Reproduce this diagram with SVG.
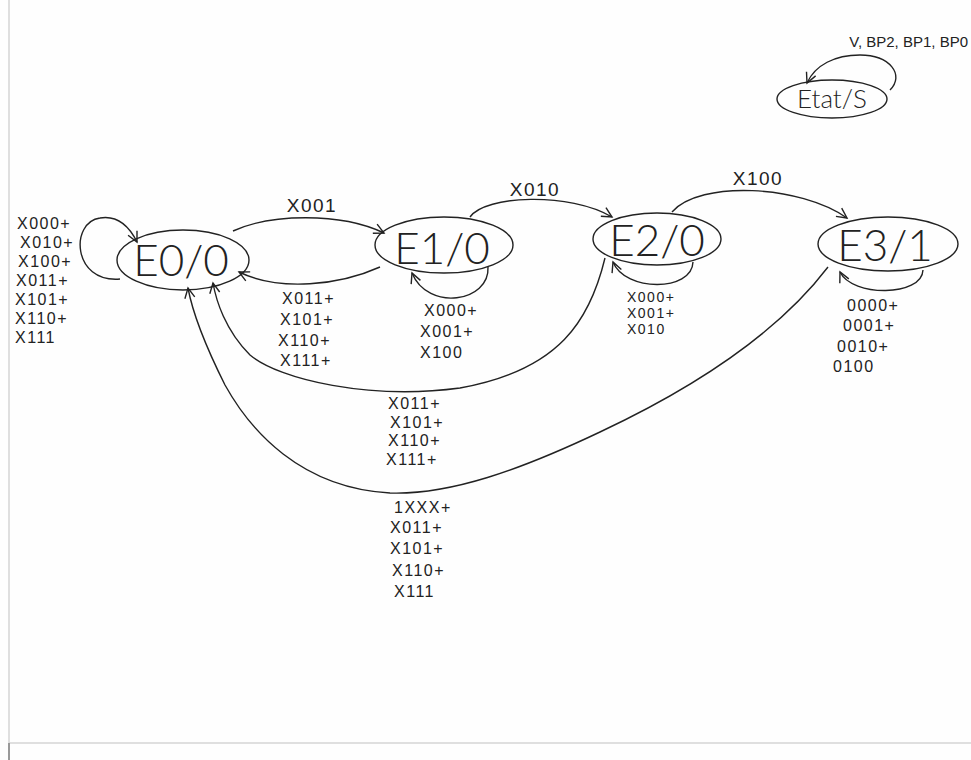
<svg xmlns="http://www.w3.org/2000/svg" width="971" height="760" viewBox="0 0 971 760">
<style>
.node{fill:none;stroke:#222;stroke-width:1.4}
.nl{font-family:Lato,"Liberation Sans",Arial,sans-serif;font-weight:300;font-size:44px;fill:#222;text-anchor:middle}
.lb{font-family:"Liberation Sans",Arial,sans-serif;font-size:16px;fill:#222;letter-spacing:1.5px}
.lt{font-family:"Liberation Sans",Arial,sans-serif;font-size:19px;fill:#222;text-anchor:middle;letter-spacing:1.5px}
.ed{fill:none;stroke:#222;stroke-width:1.4;marker-end:url(#arr)}
.page{stroke:#d4d4d4;stroke-width:1.5;fill:none}
</style>
<defs>
<marker id="arr" markerUnits="userSpaceOnUse" markerWidth="14" markerHeight="14" refX="11" refY="6" orient="auto" viewBox="0 0 14 12">
<path d="M1,1 L11,6 L1,11" fill="none" stroke="#222" stroke-width="1.4"/>
</marker>
</defs>
<rect x="0" y="0" width="971" height="760" fill="#fefefe"/>
<g id="page">
<line class="page" x1="9" y1="0" x2="9" y2="743"/>
<line class="page" x1="9" y1="743" x2="971" y2="743"/>
<line x1="9" y1="743" x2="9" y2="760" stroke="#999" stroke-width="2"/>
</g>

<g id="connectors">
<path id="loop-e0" class="ed" d="M120,279 C 72,283 70,222 100,218 C 118,215 130,228 137,242"/>
<path id="e0-e1" class="ed" d="M233,231 C 270,214 340,212 384,233"/>
<path id="e1-e0" class="ed" d="M380,267 C 340,285 280,292 239,272"/>
<path id="loop-e1" class="ed" d="M488,267 C 490,302 428,312 412,273"/>
<path id="e1-e2" class="ed" d="M470,217 C 485,195 570,192 612,217"/>
<path id="loop-e2" class="ed" d="M693,262 C 692,292 625,292 613,262"/>
<path id="e2-e3" class="ed" d="M672,212 C 700,180 800,185 847,218"/>
<path id="loop-e3" class="ed" d="M923,270 C 922,297 852,297 840,272"/>
<path id="e2-e0" class="ed" d="M605,258 C 590,320 560,370 460,388 C 370,400 280,380 250,355 C 225,330 216,300 213,283"/>
<path id="e3-e0" class="ed" d="M828,267 C 780,330 700,385 600,432 C 520,470 450,495 390,493 C 300,488 250,430 225,385 C 205,345 193,315 188,288"/>
<path id="loop-etat" class="ed" d="M890,90 C 905,75 890,55 860,55 C 835,55 815,65 807,83"/>
</g>

<g id="edge-labels">
<text class="lb" x="17" y="229">X000+</text>
<text class="lb" x="20" y="248">X010+</text>
<text class="lb" x="18" y="267">X100+</text>
<text class="lb" x="16" y="286">X011+</text>
<text class="lb" x="15" y="305">X101+</text>
<text class="lb" x="15" y="324">X110+</text>
<text class="lb" x="15" y="343">X111</text>

<text class="lt" x="312" y="212">X001</text>
<text class="lt" x="535" y="196">X010</text>
<text class="lt" x="758" y="185">X100</text>

<text class="lb" x="282" y="304">X011+</text>
<text class="lb" x="280" y="325">X101+</text>
<text class="lb" x="278" y="346">X110+</text>
<text class="lb" x="280" y="366">X111+</text>

<text class="lb" x="424" y="316">X000+</text>
<text class="lb" x="420" y="337">X001+</text>
<text class="lb" x="420" y="358">X100</text>

<text class="lb" x="627" y="302" style="font-size:14px">X000+</text>
<text class="lb" x="627" y="318" style="font-size:14px">X001+</text>
<text class="lb" x="627" y="334" style="font-size:14px">X010</text>

<text class="lb" x="847" y="311">0000+</text>
<text class="lb" x="843" y="331">0001+</text>
<text class="lb" x="837" y="352">0010+</text>
<text class="lb" x="833" y="372">0100</text>

<text class="lb" x="388" y="409">X011+</text>
<text class="lb" x="390" y="428">X101+</text>
<text class="lb" x="388" y="446">X110+</text>
<text class="lb" x="386" y="465">X111+</text>

<text class="lb" x="394" y="513">1XXX+</text>
<text class="lb" x="390" y="533">X011+</text>
<text class="lb" x="390" y="554">X101+</text>
<text class="lb" x="392" y="576">X110+</text>
<text class="lb" x="394" y="597">X111</text>

<text class="lb" x="968" y="47" style="font-size:15px;letter-spacing:0;text-anchor:end">V, BP2, BP1, BP0</text>
</g>

<g id="E0">
<ellipse class="node" cx="183" cy="260" rx="66" ry="30"/>
<text class="nl" x="181" y="276">E0/0</text>
</g>
<g id="E1">
<ellipse class="node" cx="444" cy="245" rx="69" ry="28"/>
<text class="nl" x="442" y="264">E1/0</text>
</g>
<g id="E2">
<ellipse class="node" cx="657" cy="239" rx="64" ry="26"/>
<text class="nl" x="657" y="256">E2/0</text>
</g>
<g id="E3">
<ellipse class="node" cx="888" cy="244" rx="70" ry="27"/>
<text class="nl" x="885" y="261">E3/1</text>
</g>
<g id="Etat">
<ellipse class="node" cx="832" cy="99" rx="55" ry="19"/>
<text class="nl" x="832" y="108" style="font-size:26px">Etat/S</text>
</g>
</svg>
